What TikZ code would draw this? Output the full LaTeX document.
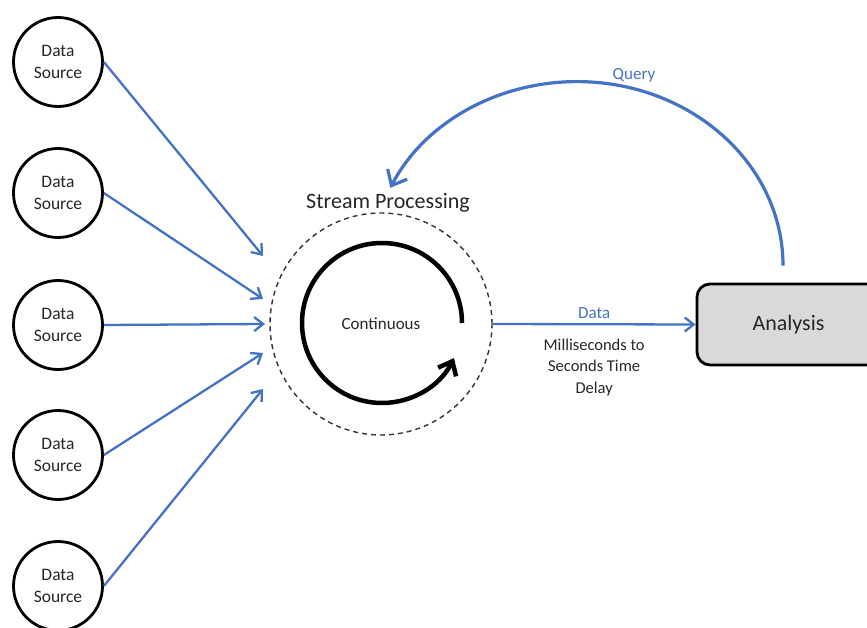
\documentclass[tikz,border=0pt]{standalone}
\usepackage{fontspec}
\setmainfont{Carlito}
\usepackage{tikz}
\usetikzlibrary{arrows.meta,positioning,calc}
\definecolor{spBlue}{RGB}{68,114,196}
\definecolor{spGray}{RGB}{217,217,217}
\definecolor{spText}{RGB}{38,38,38}
\tikzset{
  spSource/.style={draw=black, line width=2.8pt, circle, minimum size=89pt,
    inner sep=0pt, font=\fontsize{17.5}{22}\selectfont, align=center, text=spText},
  spStream/.style={draw=black!80, dashed, dash pattern=on 5pt off 4pt, line width=1.4pt,
    circle, minimum size=222pt, inner sep=0pt,
    font=\fontsize{17}{20}\selectfont, text=spText},
  spBox/.style={draw=black, line width=2.8pt, fill=spGray, rounded corners=13pt,
    minimum width=183pt, minimum height=81pt,
    font=\fontsize{22}{26}\selectfont, text=spText},
  %% Titles and labels
  spTitle/.style={font=\fontsize{22}{26}\selectfont, text=spText},
  spLabel/.style={font=\fontsize{17}{20}\selectfont, text=spBlue},
  spNote/.style={font=\fontsize{16.5}{21.5}\selectfont, align=center, text=spText},
  %% Arrows
  spFlow/.style={-{Straight Barb[length=9pt, width=14pt, line width=2.3pt]}, spBlue, line width=2.3pt},
  spQuery/.style={-{Straight Barb[length=13pt, width=22pt, line width=3.2pt]}, spBlue, line width=3.2pt},
  spLoop/.style={-{Straight Barb[length=12pt, width=20pt, line width=4.5pt]}, black, line width=4.5pt},
}

\begin{document}
\begin{tikzpicture}[x=1pt, y=1pt]
\useasboundingbox (0,0) rectangle (867,-628);

\node[spSource] (pSrcA) at (58,-62)  {Data\\Source};
\node[spSource] (pSrcB) at (58,-193) {Data\\Source};
\node[spSource] (pSrcC) at (58,-325) {Data\\Source};
\node[spSource] (pSrcD) at (58,-455) {Data\\Source};
\node[spSource] (pSrcE) at (58,-586) {Data\\Source};

\node[spStream] (pStream) at (381,-324) {Continuous};
\node[spTitle]  (pTitle)  at (388,-203) {Stream Processing};
\node[spBox]    (pAnalysis) at (788.5,-324.5) {Analysis};

\coordinate (inA) at (263,-256);
\coordinate (inB) at (263,-299);
\coordinate (inC) at (265,-324);
\coordinate (inD) at (263,-353);
\coordinate (inE) at (263,-389);

\foreach \s/\t in {pSrcA/inA, pSrcB/inB, pSrcC/inC, pSrcD/inD, pSrcE/inE}
  \draw[spFlow] (\s.east) -- (\t);

% continuous loop
\draw[spLoop] ($(pStream.center)+(81,1)$) arc[start angle=0, end angle=334, radius=80];

\draw[spFlow] (pStream.east) -- node[spLabel, above=1pt]{Data}
  node[spNote, below=10pt]{Milliseconds to\\Seconds Time\\Delay} (pAnalysis.west);

% query back to stream processing
\coordinate (qStart) at ($(pAnalysis.north)+(-5.5,17)$);
\draw[spQuery] (qStart) arc[start angle=0, end angle=155, x radius=206, y radius=184];
\node[spLabel] (pQuery) at (634,-75) {Query};

\end{tikzpicture}
\end{document}
